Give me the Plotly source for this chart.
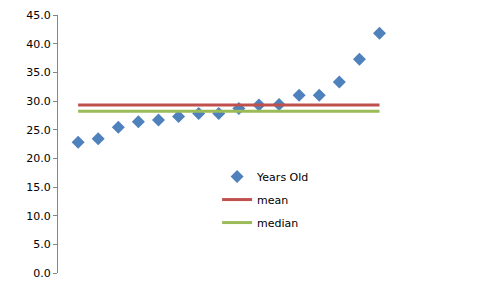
import plotly.graph_objects as go

idx = list(range(1, 17))
years_old = [22.8, 23.4, 25.4, 26.4, 26.7, 27.3, 27.8, 27.8, 28.7, 29.3, 29.4, 31.0, 31.0, 33.3, 37.3, 41.8]
mean_val = [29.3] * 16
median_val = [28.2] * 16
y_ticks = [0, 5, 10, 15, 20, 25, 30, 35, 40, 45]

fig = go.Figure()
fig.add_trace(go.Scatter(x=idx, y=years_old, mode="markers", name="Years Old",
                         legendgroup="a",
                         marker=dict(symbol="diamond", size=10, color="#4F81BD",
                                     line=dict(width=0))))
fig.add_trace(go.Scatter(x=idx, y=mean_val, mode="lines", name="mean",
                         legendgroup="b",
                         line=dict(color="#C0504D", width=3)))
fig.add_trace(go.Scatter(x=idx, y=median_val, mode="lines", name="median",
                         legendgroup="c",
                         line=dict(color="#9BBB59", width=3)))

fig.update_layout(
    width=480, height=288,
    margin=dict(l=58, r=0, t=15, b=15),
    paper_bgcolor="white", plot_bgcolor="white",
    font=dict(family="DejaVu Sans", size=11, color="#000000"),
    showlegend=True,
    legend=dict(x=0.377, y=0.43, xanchor="left", yanchor="top",
                bgcolor="rgba(0,0,0,0)", tracegroupgap=4,
                traceorder="grouped", font=dict(size=11)),
    xaxis=dict(range=[0, 21], visible=False, showgrid=False, zeroline=False),
    yaxis=dict(range=[0, 45], tickvals=y_ticks,
               ticktext=[f"{v:.1f}" for v in y_ticks],
               showline=True, linecolor="#868686", linewidth=1,
               ticks="outside", ticklen=4, tickcolor="#868686",
               showgrid=False, zeroline=False),
)

fig.write_html("out.html")
